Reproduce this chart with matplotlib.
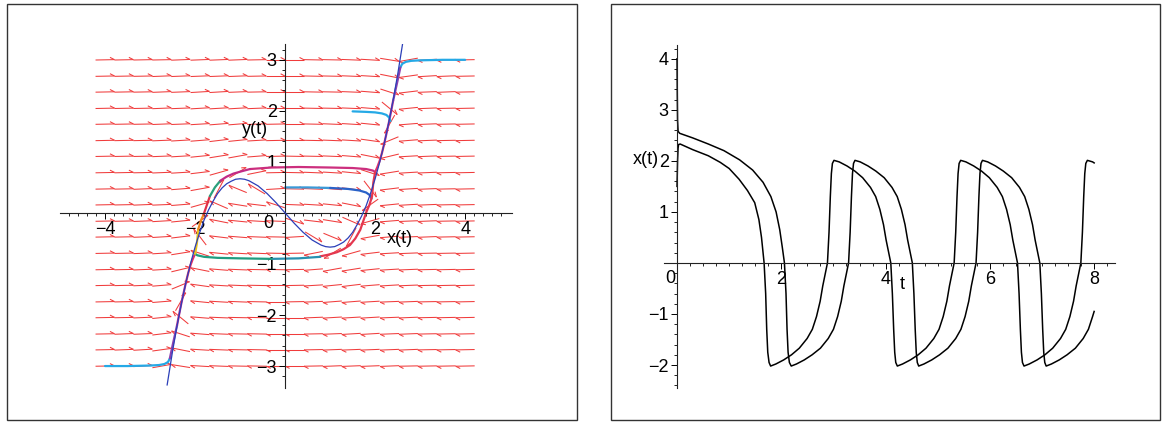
import numpy as np
import matplotlib.pyplot as plt
from matplotlib.collections import LineCollection
from matplotlib.patches import Rectangle

plt.rcParams['font.family'] = ['Liberation Sans', 'DejaVu Sans']

# ---------------- left panel data ----------------
field_x = [-4.0, -3.58, -3.16, -2.74, -2.32, -1.89, -1.47, -1.05, -0.63, -0.21,
           0.21, 0.63, 1.05, 1.47, 1.89, 2.32, 2.74, 3.16, 3.58, 4.0]
field_y = [-3.0, -2.68, -2.37, -2.05, -1.74, -1.42, -1.11, -0.79, -0.47, -0.16,
           0.16, 0.47, 0.79, 1.11, 1.42, 1.74, 2.05, 2.37, 2.68, 3.0]
# arrow direction (degrees) for each row, first row is y=-3
field_angle = [
    [1, 2, 3, 9, 172, 177, 178, 179, 179, 180, 180, -179, -178, -178, -178, -178, -179, -179, -179, -179],
    [1, 2, 3, 7, 170, 177, 178, 179, 179, 180, 180, -179, -178, -178, -178, -178, -178, -179, -179, -179],
    [1, 2, 2, 6, 164, 176, 178, 179, 179, 180, 180, -179, -178, -177, -177, -178, -178, -179, -179, -179],
    [1, 1, 2, 5, 144, 176, 178, 179, 179, 180, 180, -178, -177, -177, -177, -178, -178, -179, -179, -179],
    [1, 1, 2, 4, 57, 175, 177, 178, 179, 180, -179, -178, -176, -176, -177, -178, -178, -179, -179, -179],
    [1, 1, 2, 4, 20, 173, 177, 178, 179, 180, -179, -177, -175, -174, -176, -177, -178, -179, -179, -179],
    [1, 1, 2, 3, 12, 170, 176, 178, 179, 179, -179, -176, -171, -172, -175, -177, -178, -179, -179, -179],
    [1, 1, 2, 3, 8, 164, 175, 177, 178, 179, -179, -170, -152, -166, -174, -177, -178, -179, -179, -179],
    [1, 1, 2, 3, 6, 131, 174, 176, 178, 179, -177, -28, -20, -121, -171, -176, -178, -178, -179, -179],
    [1, 1, 2, 3, 5, 32, 170, 175, 177, 178, -16, -6, -8, -21, -166, -176, -178, -178, -179, -179],
    [1, 1, 2, 2, 4, 14, 159, 172, 174, 164, -2, -3, -5, -10, -148, -175, -177, -178, -179, -179],
    [1, 1, 2, 2, 4, 9, 59, 160, 152, 3, -1, -2, -4, -6, -49, -174, -177, -178, -179, -179],
    [1, 1, 1, 2, 3, 6, 14, 28, 10, 1, -1, -2, -3, -5, -16, -172, -177, -178, -179, -179],
    [1, 1, 1, 2, 3, 5, 8, 9, 4, 1, -1, -1, -2, -4, -10, -168, -177, -178, -179, -179],
    [1, 1, 1, 2, 3, 4, 6, 5, 3, 1, 0, -1, -2, -3, -7, -160, -176, -178, -179, -179],
    [1, 1, 1, 2, 2, 3, 4, 4, 2, 1, 0, -1, -2, -3, -5, -123, -176, -178, -179, -179],
    [1, 1, 1, 2, 2, 3, 3, 3, 2, 0, 0, -1, -1, -2, -4, -36, -175, -178, -179, -179],
    [1, 1, 1, 2, 2, 3, 3, 2, 1, 0, 0, -1, -1, -2, -4, -16, -174, -178, -178, -179],
    [1, 1, 1, 2, 2, 2, 2, 2, 1, 0, 0, -1, -1, -2, -3, -10, -173, -177, -178, -179],
    [1, 1, 1, 1, 2, 2, 2, 2, 1, 0, 0, -1, -1, -2, -3, -8, -171, -177, -178, -179],
]

# thin blue curve (cubic nullcline)
null_x = [-2.62, -2.5, -2.4, -2.3, -2.2, -2.1, -2.0, -1.9, -1.8, -1.7, -1.6, -1.5, -1.4, -1.3,
          -1.2, -1.1, -1.0, -0.9, -0.8, -0.6, -0.4, -0.2, 0.0, 0.2, 0.4, 0.6, 0.8, 0.9, 1.0,
          1.1, 1.2, 1.3, 1.4, 1.5, 1.6, 1.7, 1.8, 1.9, 2.0, 2.1, 2.2, 2.3, 2.4, 2.5, 2.62]
null_y = [-3.37, -2.71, -2.21, -1.76, -1.35, -0.99, -0.67, -0.39, -0.14, 0.06, 0.23, 0.38, 0.49,
          0.57, 0.62, 0.66, 0.67, 0.66, 0.63, 0.53, 0.38, 0.2, 0.0, -0.2, -0.38, -0.53, -0.63,
          -0.66, -0.67, -0.66, -0.62, -0.57, -0.49, -0.38, -0.23, -0.06, 0.14, 0.39, 0.67, 0.99,
          1.35, 1.76, 2.21, 2.71, 3.37]

# trajectory pieces: (x values, y values, colour)
traj_pieces = [
    # start (4, 3)
    ([4.0, 3.5, 3.0, 2.8, 2.68, 2.6, 2.56], [3.0, 3.0, 2.99, 2.98, 2.96, 2.92, 2.85], '#25a9e6'),
    ([2.56, 2.5, 2.45, 2.4], [2.85, 2.6, 2.4, 2.2], '#8a3fb0'),
    ([2.4, 2.35, 2.3, 2.25, 2.2], [2.2, 1.97, 1.75, 1.55, 1.35], '#c03090'),
    ([2.2, 2.15, 2.1, 2.05, 2.0], [1.35, 1.17, 1.02, 0.9, 0.8], '#e0306a'),
    # start (-4, -3)
    ([-4.0, -3.5, -3.0, -2.8, -2.68, -2.6, -2.56], [-3.0, -3.0, -2.99, -2.98, -2.96, -2.92, -2.85], '#25a9e6'),
    ([-2.56, -2.5, -2.45, -2.4], [-2.85, -2.6, -2.4, -2.2], '#8a3fb0'),
    ([-2.4, -2.35, -2.3, -2.25, -2.2], [-2.2, -1.97, -1.75, -1.55, -1.35], '#c03090'),
    ([-2.2, -2.15, -2.1, -2.05, -2.0], [-1.35, -1.17, -1.02, -0.9, -0.8], '#e0306a'),
    # start (1.5, 2)
    ([1.5, 1.8, 2.0, 2.15, 2.25, 2.31, 2.34], [1.99, 1.98, 1.97, 1.95, 1.92, 1.87, 1.8], '#25a9e6'),
    # start (0, 0.5)
    ([0.0, 0.5, 1.0], [0.5, 0.5, 0.49], '#3a9ad8'),
    ([1.0, 1.4, 1.65, 1.8, 1.88, 1.92], [0.49, 0.47, 0.44, 0.4, 0.35, 0.28], '#2a62c8'),
    # limit cycle
    ([-0.78, -0.3, 0.3, 1.0, 1.5, 1.8, 1.95, 2.0], [0.86, 0.89, 0.9, 0.89, 0.88, 0.86, 0.83, 0.8], '#cc2f7e'),
    ([2.0, 1.96, 1.93, 1.87, 1.81, 1.74, 1.67, 1.56, 1.44, 1.3, 1.15, 0.95, 0.78],
     [0.8, 0.6, 0.32, 0.15, 0.03, -0.15, -0.33, -0.5, -0.63, -0.71, -0.77, -0.82, -0.85], '#e4374f'),
    ([0.78, 0.3, -0.3], [-0.86, -0.89, -0.9], '#2890b0'),
    ([-0.3, -1.0, -1.5, -1.8, -1.95, -2.0], [-0.9, -0.89, -0.88, -0.86, -0.83, -0.8], '#1f9c80'),
    ([-2.0, -1.96, -1.93], [-0.8, -0.6, -0.32], '#e8c21e'),
    ([-1.93, -1.87, -1.81], [-0.32, -0.15, -0.03], '#f08a24'),
    ([-1.81, -1.74, -1.67], [-0.03, 0.15, 0.33], '#e03048'),
    ([-1.67, -1.56, -1.44], [0.33, 0.5, 0.63], '#2aa07c'),
    ([-1.44, -1.3, -1.15, -0.95, -0.78], [0.63, 0.71, 0.77, 0.82, 0.86], '#c22a86'),
]

# ---------------- right panel data ----------------
t_a = [0.0, 0.005, 0.01, 0.02, 0.05, 0.3, 0.6, 0.9, 1.2, 1.45, 1.65, 1.8, 1.9, 1.97, 2.02,
       2.06, 2.09, 2.11, 2.13, 2.155, 2.19,
       2.29, 2.44, 2.59, 2.75, 2.9, 3.0, 3.08, 3.15, 3.2, 3.25, 3.29, 3.32, 3.345, 3.365, 3.385, 3.413,
       3.513, 3.663, 3.813, 3.973, 4.123, 4.223, 4.303, 4.373, 4.423, 4.473, 4.513, 4.543, 4.568,
       4.588, 4.608, 4.635,
       4.735, 4.885, 5.035, 5.195, 5.345, 5.445, 5.525, 5.595, 5.645, 5.695, 5.735, 5.765, 5.79,
       5.81, 5.83, 5.858,
       5.958, 6.108, 6.258, 6.418, 6.568, 6.668, 6.748, 6.818, 6.868, 6.918, 6.958, 6.988, 7.013,
       7.033, 7.053, 7.08,
       7.18, 7.33, 7.48, 7.64, 7.79, 7.89, 7.97, 8.0]
x_a = [4.0, 3.3, 2.8, 2.58, 2.54, 2.45, 2.33, 2.2, 2.02, 1.82, 1.58, 1.3, 1.0, 0.65, 0.3,
       0.0, -0.6, -1.3, -1.75, -1.95, -2.02,
       -1.98, -1.9, -1.8, -1.67, -1.48, -1.3, -1.05, -0.75, -0.45, -0.2, 0.0, 0.6, 1.3, 1.75, 1.95, 2.01,
       1.98, 1.9, 1.8, 1.67, 1.48, 1.3, 1.05, 0.75, 0.45, 0.2, 0.0, -0.6, -1.3, -1.75, -1.95, -2.02,
       -1.98, -1.9, -1.8, -1.67, -1.48, -1.3, -1.05, -0.75, -0.45, -0.2, 0.0, 0.6, 1.3, 1.75, 1.95, 2.01,
       1.98, 1.9, 1.8, 1.67, 1.48, 1.3, 1.05, 0.75, 0.45, 0.2, 0.0, -0.6, -1.3, -1.75, -1.95, -2.02,
       -1.98, -1.9, -1.8, -1.67, -1.48, -1.3, -1.05, -0.95]

t_b = [0.0, 0.01, 0.02, 0.03, 0.06, 0.3, 0.6, 0.83, 1.0, 1.19, 1.35, 1.49, 1.57, 1.62, 1.67,
       1.7, 1.72, 1.74, 1.765, 1.795,
       1.895, 2.045, 2.195, 2.345, 2.495, 2.595, 2.675, 2.745, 2.795, 2.845, 2.885, 2.915, 2.94,
       2.96, 2.98, 3.01,
       3.11, 3.26, 3.41, 3.56, 3.71, 3.81, 3.89, 3.96, 4.01, 4.06, 4.1, 4.13, 4.155, 4.175, 4.195, 4.225,
       4.325, 4.475, 4.625, 4.775, 4.925, 5.025, 5.105, 5.175, 5.225, 5.275, 5.315, 5.345, 5.37,
       5.39, 5.41, 5.44,
       5.54, 5.69, 5.84, 5.99, 6.14, 6.24, 6.32, 6.39, 6.44, 6.49, 6.53, 6.56, 6.585, 6.605, 6.625, 6.655,
       6.755, 6.905, 7.055, 7.205, 7.355, 7.455, 7.535, 7.605, 7.655, 7.705, 7.745, 7.775, 7.8,
       7.82, 7.84, 7.87, 7.97, 8.0]
x_b = [1.5, 2.0, 2.25, 2.32, 2.33, 2.22, 2.1, 1.97, 1.85, 1.64, 1.42, 1.18, 0.85, 0.5, 0.0,
       -0.6, -1.3, -1.75, -1.95, -2.02,
       -1.98, -1.9, -1.8, -1.67, -1.48, -1.3, -1.05, -0.75, -0.45, -0.2, 0.0, 0.6, 1.3, 1.75, 1.95, 2.01,
       1.98, 1.9, 1.8, 1.67, 1.48, 1.3, 1.05, 0.75, 0.45, 0.2, 0.0, -0.6, -1.3, -1.75, -1.95, -2.02,
       -1.98, -1.9, -1.8, -1.67, -1.48, -1.3, -1.05, -0.75, -0.45, -0.2, 0.0, 0.6, 1.3, 1.75, 1.95, 2.01,
       1.98, 1.9, 1.8, 1.67, 1.48, 1.3, 1.05, 0.75, 0.45, 0.2, 0.0, -0.6, -1.3, -1.75, -1.95, -2.02,
       -1.98, -1.9, -1.8, -1.67, -1.48, -1.3, -1.05, -0.75, -0.45, -0.2, 0.0, 0.6, 1.3, 1.75, 1.95, 2.01,
       1.98, 1.96]

W, H = 1166, 423
fig = plt.figure(figsize=(W / 100, H / 100), dpi=100)

def px_box(x0, y0, x1, y1):
    return [x0 / W, 1 - y1 / H, (x1 - x0) / W, (y1 - y0) / H]

# frames round the two panels
for x0, x1 in [(7, 577), (611, 1160)]:
    fig.patches.append(Rectangle((x0 / W, 3 / H), (x1 - x0) / W, (H - 7) / H,
                                 transform=fig.transFigure, fill=False,
                                 edgecolor='#333333', linewidth=1.0))

def maple_axes(ax):
    for s in ['top', 'right']:
        ax.spines[s].set_visible(False)
    for s in ['left', 'bottom']:
        ax.spines[s].set_position('zero')
        ax.spines[s].set_linewidth(0.8)
        ax.spines[s].set_color('#222222')
    ax.tick_params(which='major', direction='out', length=4, width=0.7, labelsize=13, pad=2)
    ax.tick_params(which='minor', direction='out', length=2.5, width=0.6)
    ax.patch.set_visible(False)

# ---------------- left panel ----------------
ax1 = fig.add_axes(px_box(60, 44, 512, 388))
arrow_len = 0.421
shafts, barbs = [], []
for j, yc in enumerate(field_y):
    for i, xc in enumerate(field_x):
        a = np.deg2rad(field_angle[j][i])
        dx, dy = 0.5 * arrow_len * np.cos(a), 0.5 * arrow_len * np.sin(a)
        shafts.append([(xc - dx, yc - dy), (xc + dx, yc + dy)])
        b = a + np.deg2rad(155)
        barbs.append([(xc + dx, yc + dy),
                      (xc + dx + 0.11 * np.cos(b), yc + dy + 0.11 * np.sin(b))])
ax1.add_collection(LineCollection(shafts, colors='#f03c3c', linewidths=0.75, zorder=1))
ax1.add_collection(LineCollection(barbs, colors='#f03c3c', linewidths=0.75, zorder=1))

ax1.plot(null_x, null_y, color='#2b3fb8', lw=0.9, zorder=3)
for xs, ys, c in traj_pieces:
    ax1.plot(xs, ys, color=c, lw=1.6, solid_capstyle='round', zorder=2)

ax1.set_xlim(-5.0, 5.04)
ax1.set_ylim(-3.43, 3.31)
maple_axes(ax1)
ax1.set_xticks([-4, -2, 2, 4])
ax1.set_xticks(np.arange(-4.8, 5.0, 0.2), minor=True)
ax1.set_yticks([-3, -2, -1, 1, 2, 3])
ax1.set_yticks(np.arange(-3.2, 3.3, 0.2), minor=True)
ax1.text(-0.38, -0.2, '0', fontsize=13, ha='center', va='center')
ax1.text(-0.67, 1.63, 'y(t)', fontsize=13, ha='center', va='center')
ax1.text(2.55, -0.5, 'x(t)', fontsize=13, ha='center', va='center')

# ---------------- right panel ----------------
ax2 = fig.add_axes(px_box(664, 45, 1115, 388))
ax2.plot(t_a, x_a, color='black', lw=1.1)
ax2.plot(t_b, x_b, color='black', lw=1.1)
ax2.set_xlim(-0.25, 8.4)
ax2.set_ylim(-2.45, 4.27)
maple_axes(ax2)
ax2.set_xticks([2, 4, 6, 8])
ax2.set_xticks(np.arange(0.25, 8.4, 0.25), minor=True)
ax2.set_yticks([-2, -1, 1, 2, 3, 4])
ax2.set_yticks(np.arange(-2.4, 4.3, 0.2), minor=True)
ax2.text(-0.12, -0.31, '0', fontsize=13, ha='center', va='center')
ax2.text(-0.59, 2.02, 'x(t)', fontsize=13, ha='center', va='center')
ax2.text(4.31, -0.43, 't', fontsize=13, ha='center', va='center')

fig.savefig('out.png', dpi=100)
